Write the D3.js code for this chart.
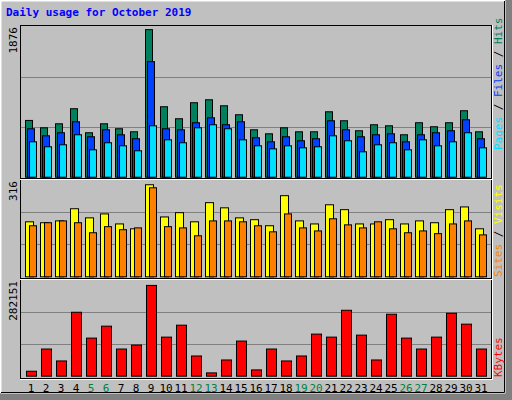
<!DOCTYPE html>
<html><head><meta charset="utf-8">
<script src="https://cdn.jsdelivr.net/npm/d3@7"></script>
<style>body{margin:0;background:#fff}svg{display:block}</style>
</head><body><svg id="c" width="512" height="400"></svg>
<script>
const days = d3.range(1,32);
const weekend = [5,6,12,13,19,20,26,27];
const hits  = [709,617,667,855,555,667,605,567,1843,880,730,930,967,892,780,592,542,617,567,567,817,705,580,655,642,530,680,630,680,830,567];
const files = [605,517,555,692,505,592,530,480,1443,605,592,680,742,655,692,492,442,505,455,480,705,592,505,530,542,442,530,555,580,717,480];
const pages = [442,380,405,530,342,430,392,330,642,467,430,617,655,605,467,392,354,392,367,380,517,455,317,405,430,342,467,392,442,555,367];
const visits= [181,178,184,224,194,207,174,158,303,197,211,181,244,227,194,188,168,267,184,174,237,221,174,174,188,174,184,178,221,230,158];
const sites = [168,178,184,178,145,165,155,161,293,165,161,135,184,184,181,168,148,207,161,151,191,171,161,181,158,145,151,142,174,184,138];
const kbytes= [14700,80400,45100,189100,112700,148000,80400,92100,268500,115600,150900,59800,9800,48000,103900,18600,80400,45100,59800,124500,115600,195000,121500,48000,183300,112700,80400,115600,186200,153900,80400];
const maxHits = 1876, maxVisits = 316, maxKB = 282151;

const svg = d3.select("#c");
const W=512,H=400;
svg.append("rect").attr("width",W).attr("height",H).attr("fill","#c0c0c0");
// outer bevel
svg.append("path").attr("d",`M0.5,${H-0.5}V0.5H${W-0.5}`).attr("stroke","#fff").attr("fill","none");
svg.append("rect").attr("x",W-7).attr("y",0).attr("width",7).attr("height",H).attr("fill","#808080");
svg.append("rect").attr("x",0).attr("y",H-7).attr("width",W).attr("height",7).attr("fill","#808080");
svg.append("rect").attr("x",1).attr("y",1).attr("width",W-8).attr("height",H-8).attr("fill","#c0c0c0").attr("stroke","#fff").attr("stroke-width",1);
svg.append("path").attr("d",`M${W-7.5},1V${H-7.5}H1`).attr("stroke","#000").attr("fill","none");

svg.append("text").attr("x",6).attr("y",16).text("Daily usage for October 2019")
 .attr("font-family","DejaVu Sans Mono").attr("font-weight","bold").attr("font-size",11).attr("fill","#0000ff");

const L=20, R=491;
const x = d3.scaleLinear().domain([1,32]).range([25,25+15*31]);
// panel frame
svg.append("rect").attr("x",L+0.5).attr("y",25.5).attr("width",R-L).attr("height",378-25).attr("fill","none").attr("stroke","#000");
svg.append("path").attr("d",`M${R+1.5},25V${379.5}H${L}`).attr("stroke","#fff").attr("fill","none");

const panels = [
 {top:26.5, bot:176.7, max:maxHits},
 {top:180.3, bot:276.3, max:maxVisits},
 {top:280.3, bot:375.7, max:maxKB}
];
panels.forEach(p=>{
  p.y = d3.scaleLinear().domain([0,p.max]).range([p.bot,p.top]);
  [1,2].forEach(k=>{
    const gy = Math.round(p.bot-(p.bot-p.top)*k/3)+0.5;
    svg.append("line").attr("x1",L+1).attr("x2",R).attr("y1",gy).attr("y2",gy).attr("stroke","#808080");
  });
});
// separators
[178.5,278.5].forEach(sy=>{
  svg.append("line").attr("x1",L).attr("x2",R+1).attr("y1",sy).attr("y2",sy).attr("stroke","#000");
  svg.append("line").attr("x1",L).attr("x2",R+1).attr("y1",sy+1).attr("y2",sy+1).attr("stroke","#fff");
});

function bars(data, p, off, w, color){
  svg.append("g").selectAll("rect").data(data).join("rect")
   .attr("x",(d,i)=>x(days[i])+off+0.5).attr("width",w)
   .attr("y",d=>p.y(d)+0.5).attr("height",d=>p.bot-p.y(d))
   .attr("fill",color).attr("stroke","#000");
}
bars(hits,panels[0],0,7,"#00805c");
bars(files,panels[0],2,7,"#0040ff");
bars(pages,panels[0],4,7,"#00e0ff");
bars(visits,panels[1],0,8,"#ffff00");
bars(sites,panels[1],4,7,"#ff8000");
bars(kbytes,panels[2],1,10,"#ff0000");

// day labels
svg.append("g").selectAll("text").data(days).join("text")
 .attr("x",d=>x(d)+6).attr("y",392).attr("text-anchor","middle")
 .attr("font-family","DejaVu Sans Mono").attr("font-size",11)
 .attr("fill",d=>weekend.includes(d)?"#008040":"#000").text(d=>d);

// left max labels
function vtext(xp,yp,t,anchor){
  return svg.append("text").attr("transform",`translate(${xp},${yp}) rotate(-90)`)
   .attr("text-anchor",anchor).attr("font-family","DejaVu Sans Mono").attr("font-size",11).text(t);
}
vtext(17,27,maxHits,"end");
vtext(17,181,maxVisits,"end");
vtext(17,281,maxKB,"end");

function legend(yp, parts){
  const t = svg.append("text").attr("transform",`translate(502,${yp}) rotate(-90)`)
   .attr("text-anchor","start").attr("font-family","DejaVu Sans Mono").attr("font-size",11);
  parts.forEach(([s,c])=>t.append("tspan").attr("fill",c).text(s));
}
legend(150,[["Pages","#00e0ff"],[" / ","#000"],["Files","#0040ff"],[" / ","#000"],["Hits","#00805c"]]);
legend(277,[["Sites","#ff8000"],[" / ","#000"],["Visits","#ffff00"]]);
legend(377,[["KBytes","#ff0000"]]);
</script></body></html>
